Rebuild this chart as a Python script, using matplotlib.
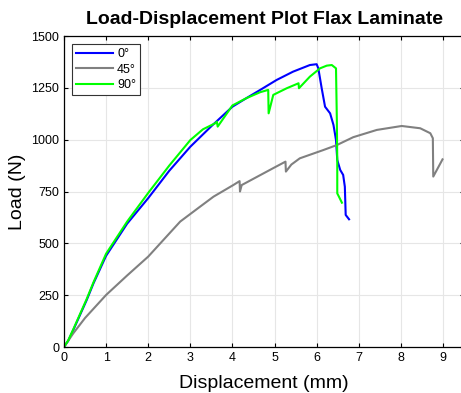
import matplotlib.pyplot as plt

plt.rcParams['font.family'] = ['Liberation Sans', 'DejaVu Sans']

# 0 deg specimen
blue_x = [0, 0.1, 0.22, 0.54, 0.70, 1.0, 1.5, 2.0, 2.5, 3.0, 3.5, 4.0, 4.33, 4.66,
          5.05, 5.44, 5.84, 6.0, 6.04, 6.12, 6.2, 6.32, 6.40, 6.44, 6.46, 6.49,
          6.56, 6.63, 6.67, 6.69, 6.77]
blue_y = [0, 30, 82, 227, 307, 440, 595, 718, 850, 966, 1065, 1159, 1200, 1240,
          1288, 1328, 1360, 1364, 1344, 1248, 1159, 1127, 1071, 1023, 998, 902,
          854, 830, 773, 637, 616]

# 45 deg specimen
gray_x = [0, 0.22, 0.5, 1.0, 1.5, 2.0, 2.4, 2.76, 3.2, 3.55, 4.02, 4.17, 4.18,
          4.22, 5.0, 5.26, 5.27, 5.4, 5.6, 6.16, 6.48, 6.87, 7.43, 8.02, 8.46,
          8.70, 8.76, 8.77, 8.99]
gray_y = [0, 66, 140, 251, 345, 436, 525, 605, 672, 725, 781, 800, 750,
          781, 866, 894, 846, 880, 910, 950, 974, 1012, 1047, 1066, 1055,
          1031, 1007, 822, 905]

# 90 deg specimen
green_x = [0, 0.1, 0.22, 0.54, 0.70, 1.0, 1.5, 2.0, 2.5, 3.0, 3.3, 3.6, 3.63,
           3.65, 4.0, 4.33, 4.66, 4.85, 4.86, 4.97, 5.29, 5.57, 5.58, 5.84,
           6.08, 6.24, 6.36, 6.46, 6.48, 6.49, 6.49, 6.53, 6.6]
green_y = [0, 32, 85, 232, 312, 450, 605, 743, 875, 998, 1050, 1080, 1087,
           1063, 1165, 1200, 1229, 1240, 1127, 1216, 1248, 1272, 1248, 1304,
           1344, 1357, 1360, 1344, 1095, 902, 741, 725, 696]

x_ticks = list(range(0, 10))
y_ticks = [0, 250, 500, 750, 1000, 1250, 1500]

fig = plt.figure(figsize=(4.61, 3.93), dpi=100)
ax = fig.add_axes([64 / 461, 1 - 347 / 393, 400 / 461, 311 / 393])

ax.plot(blue_x, blue_y, color=(0, 0, 1), lw=1.5, label='0°')
ax.plot(gray_x, gray_y, color=(0.5, 0.5, 0.5), lw=1.5, label='45°')
ax.plot(green_x, green_y, color=(0, 1, 0), lw=1.5, label='90°')

ax.set_xlim(0, 9.5)
ax.set_ylim(0, 1500)
ax.set_xticks(x_ticks)
ax.set_yticks(y_ticks)
ax.tick_params(direction='in', labelsize=9, length=3, top=True, right=True)
ax.grid(True, color='#e6e6e6', lw=0.8)
ax.set_axisbelow(True)
for s in ax.spines.values():
    s.set_linewidth(0.9)

ax.set_xlabel('Displacement (mm)', fontsize=14, labelpad=8)
ax.set_ylabel('Load (N)', fontsize=14, labelpad=4)
ax.set_title('Load-Displacement Plot Flax Laminate', fontsize=14,
             fontweight='bold', pad=9)

leg = ax.legend(loc='upper left', fontsize=9, fancybox=False, framealpha=1,
                edgecolor='#333333', handlelength=3.0, borderpad=0.3,
                labelspacing=0.3, handletextpad=0.3, borderaxespad=0.65)
leg.get_frame().set_linewidth(0.8)

fig.savefig('out.png', dpi=100)
